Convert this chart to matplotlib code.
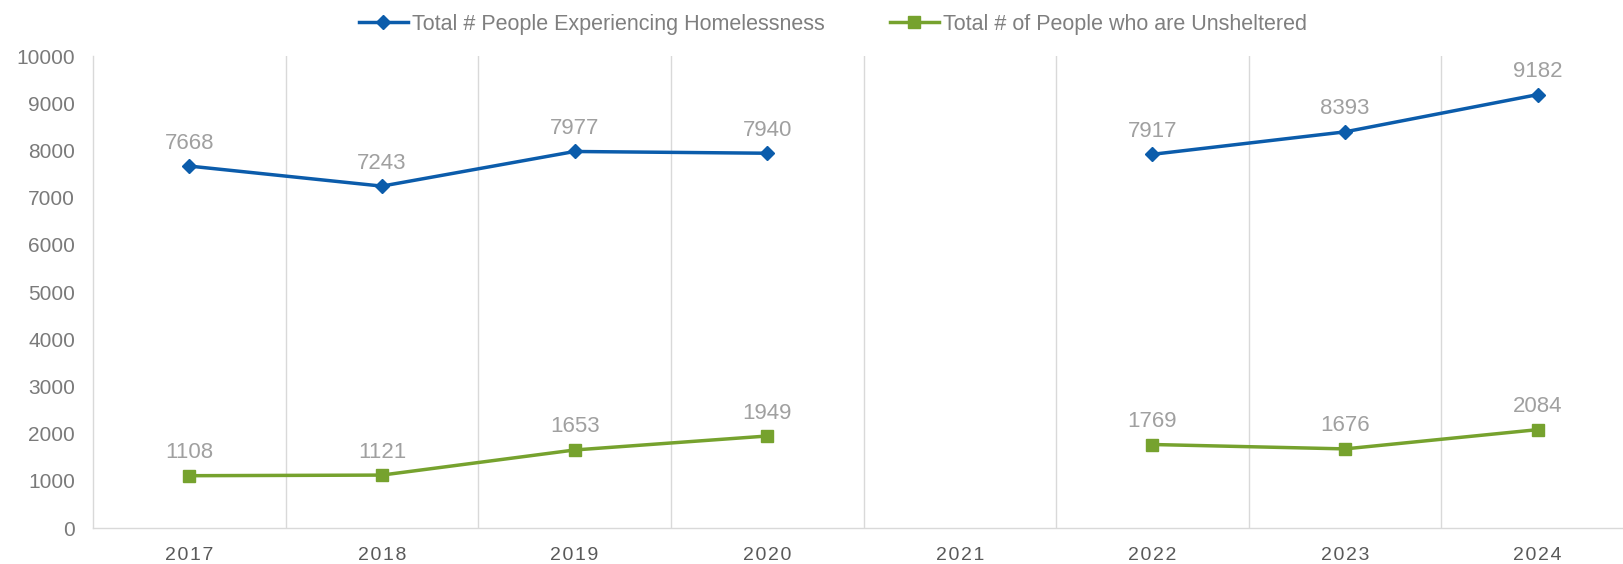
import numpy as np
import matplotlib.pyplot as plt

plt.rcParams['font.family'] = ['Liberation Sans', 'DejaVu Sans']

# chart data
years = ['2017', '2018', '2019', '2020', '2021', '2022', '2023', '2024']
total_homeless = [7668, 7243, 7977, 7940, np.nan, 7917, 8393, 9182]
unsheltered = [1108, 1121, 1653, 1949, np.nan, 1769, 1676, 2084]

blue = '#0B5CAB'
green = '#76A22E'
label_grey = '#A0A0A0'

fig = plt.figure(figsize=(16.24, 5.64), dpi=100)
ax = fig.add_axes([93/1624, 1-528/564, (1634-93)/1624, (528-56)/564])

x = np.arange(len(years))
ax.plot(x, total_homeless, color=blue, lw=2.5, marker='D', ms=7.5,
        label='Total # People Experiencing Homelessness')
ax.plot(x, unsheltered, color=green, lw=2.5, marker='s', ms=8,
        label='Total # of People who are Unsheltered')

# data labels above points
for series in [total_homeless, unsheltered]:
    for xi, v in zip(x, series):
        if not np.isnan(v):
            ax.annotate(f'{v:.0f}', (xi, v), xytext=(0, 9), textcoords='offset points',
                        ha='center', va='bottom', color=label_grey, fontsize=16)

ax.set_xlim(-0.5, len(years) - 0.5)
ax.set_ylim(0, 10000)
ax.set_yticks(np.arange(0, 10001, 1000))
ax.set_xticks(x)
# slightly spaced out year labels like the original
ax.set_xticklabels(['\u200a'.join(y) for y in years])

# vertical gridlines at category boundaries
for b in np.arange(0.5, len(years) - 0.5, 1):
    ax.axvline(b, color='#D9D9D9', lw=1, zorder=0)

for s in ['top', 'right']:
    ax.spines[s].set_visible(False)
for s in ['left', 'bottom']:
    ax.spines[s].set_color('#D9D9D9')
    ax.spines[s].set_linewidth(1)

ax.tick_params(axis='y', length=0, labelsize=15, colors='#7A7A7A', pad=13)
ax.tick_params(axis='x', length=0, labelsize=14, colors='#595959', pad=14)

fig.legend(loc='upper center', bbox_to_anchor=(833/1624, 1.01), ncol=2, frameon=False,
           fontsize=15.5, labelcolor='#7F7F7F', handlelength=2.3, columnspacing=3.0,
           handletextpad=0.2)

fig.savefig('out.png', dpi=100)
